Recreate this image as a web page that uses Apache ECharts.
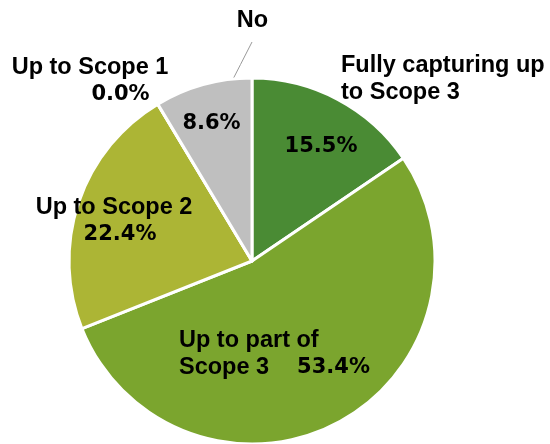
<!DOCTYPE html>
<html><head><meta charset="utf-8">
<script src="https://cdn.jsdelivr.net/npm/echarts@6/dist/echarts.min.js"></script>
<style>html,body{margin:0;padding:0;background:#fff}#c{width:550px;height:444px}</style>
</head><body><div id="c"></div>
<script>
// ---- data ----
const categories = ['Fully capturing up\nto Scope 3', 'Up to part of\nScope 3', 'Up to Scope 2', 'Up to Scope 1', 'No'];
const values = [15.5, 53.4, 22.4, 0.0, 8.6];
const colors = ['#4a8b34', '#7ba52e', '#acb535', '#98b83a', '#bfbfbf'];

// ---- helpers ----
const pct = v => v.toFixed(1) + '%';
const nameRich = n => n.split('\n').map(s => '{n|' + s + '}').join('\n');

const NAME_FONT = { fontFamily: 'Liberation Sans', fontWeight: 'bold', fontSize: 23.5, color: '#000', lineHeight: 27 };
const PCT_FONT = { fontFamily: 'DejaVu Sans', fontWeight: 'bold', fontSize: 21, color: '#000', lineHeight: 27 };

// label placements (series A: slice labels / percentages, series B: separated names)
const layoutA = [
  { x: 321, y: 147, align: 'center' },
  { x: 179, y: 354, align: 'left' },
  { x: 114, y: 221, align: 'center' },
  { x: 90, y: 81, align: 'center' },
  { x: 211.5, y: 124, align: 'center' }
];
const layoutB = {
  0: { x: 341, y: 79, align: 'left' },
  4: { x: 252.5, y: 21, align: 'center', labelLinePoints: [[229, 87], [240.5, 64.5], [252, 42]] }
};

function fmtA(p) {
  const i = p.dataIndex, v = values[i];
  const lines = categories[i].split('\n');
  if (i === 0 || i === 4) return '{p|' + pct(v) + '}';
  if (i === 1) return '{n|' + lines[0] + '}\n{n|' + lines[1] + '}{g|' + pct(v) + '}';
  if (i === 2) return nameRich(categories[i]) + '\n{p2|' + pct(v) + '}';
  return nameRich(categories[i]) + '\n{p3|' + pct(v) + '}';
}

const dataA = categories.map((c, i) => ({ name: c, value: values[i], itemStyle: { color: colors[i] } }));
const dataB = categories.map((c, i) => ({
  name: c, value: values[i],
  label: { show: i === 0 || i === 4 },
  labelLine: { show: i === 4 }
}));

const chart = echarts.init(document.getElementById('c'), null, { renderer: 'canvas' });
chart.setOption({
  backgroundColor: '#fff',
  animation: false,
  series: [
    {
      type: 'pie',
      center: [252, 261],
      radius: 183,
      startAngle: 90,
      clockwise: true,
      avoidLabelOverlap: false,
      silent: true,
      itemStyle: { borderColor: '#fff', borderWidth: 3 },
      label: {
        show: true, position: 'inside', formatter: fmtA,
        rich: {
          n: NAME_FONT,
          p: PCT_FONT,
          g: Object.assign({}, PCT_FONT, { padding: [0, 0, 0, 28] }),
          p2: Object.assign({}, PCT_FONT, { padding: [0, 0, 0, 12] }),
          p3: Object.assign({}, PCT_FONT, { padding: [0, 0, 0, 61] })
        }
      },
      labelLine: { show: false },
      labelLayout: p => Object.assign({ verticalAlign: 'middle' }, layoutA[p.dataIndex]),
      data: dataA
    },
    {
      type: 'pie',
      center: [252, 261],
      radius: 183,
      startAngle: 90,
      clockwise: true,
      avoidLabelOverlap: false,
      silent: true,
      itemStyle: { color: 'rgba(0,0,0,0)', borderWidth: 0 },
      label: {
        show: true, position: 'outside',
        formatter: p => nameRich(categories[p.dataIndex]),
        rich: { n: NAME_FONT }
      },
      labelLine: { show: true, lineStyle: { color: '#9a9a9a', width: 1 } },
      labelLayout: p => layoutB[p.dataIndex] ? Object.assign({ verticalAlign: 'middle' }, layoutB[p.dataIndex]) : {},
      data: dataB
    }
  ]
});
</script></body></html>
